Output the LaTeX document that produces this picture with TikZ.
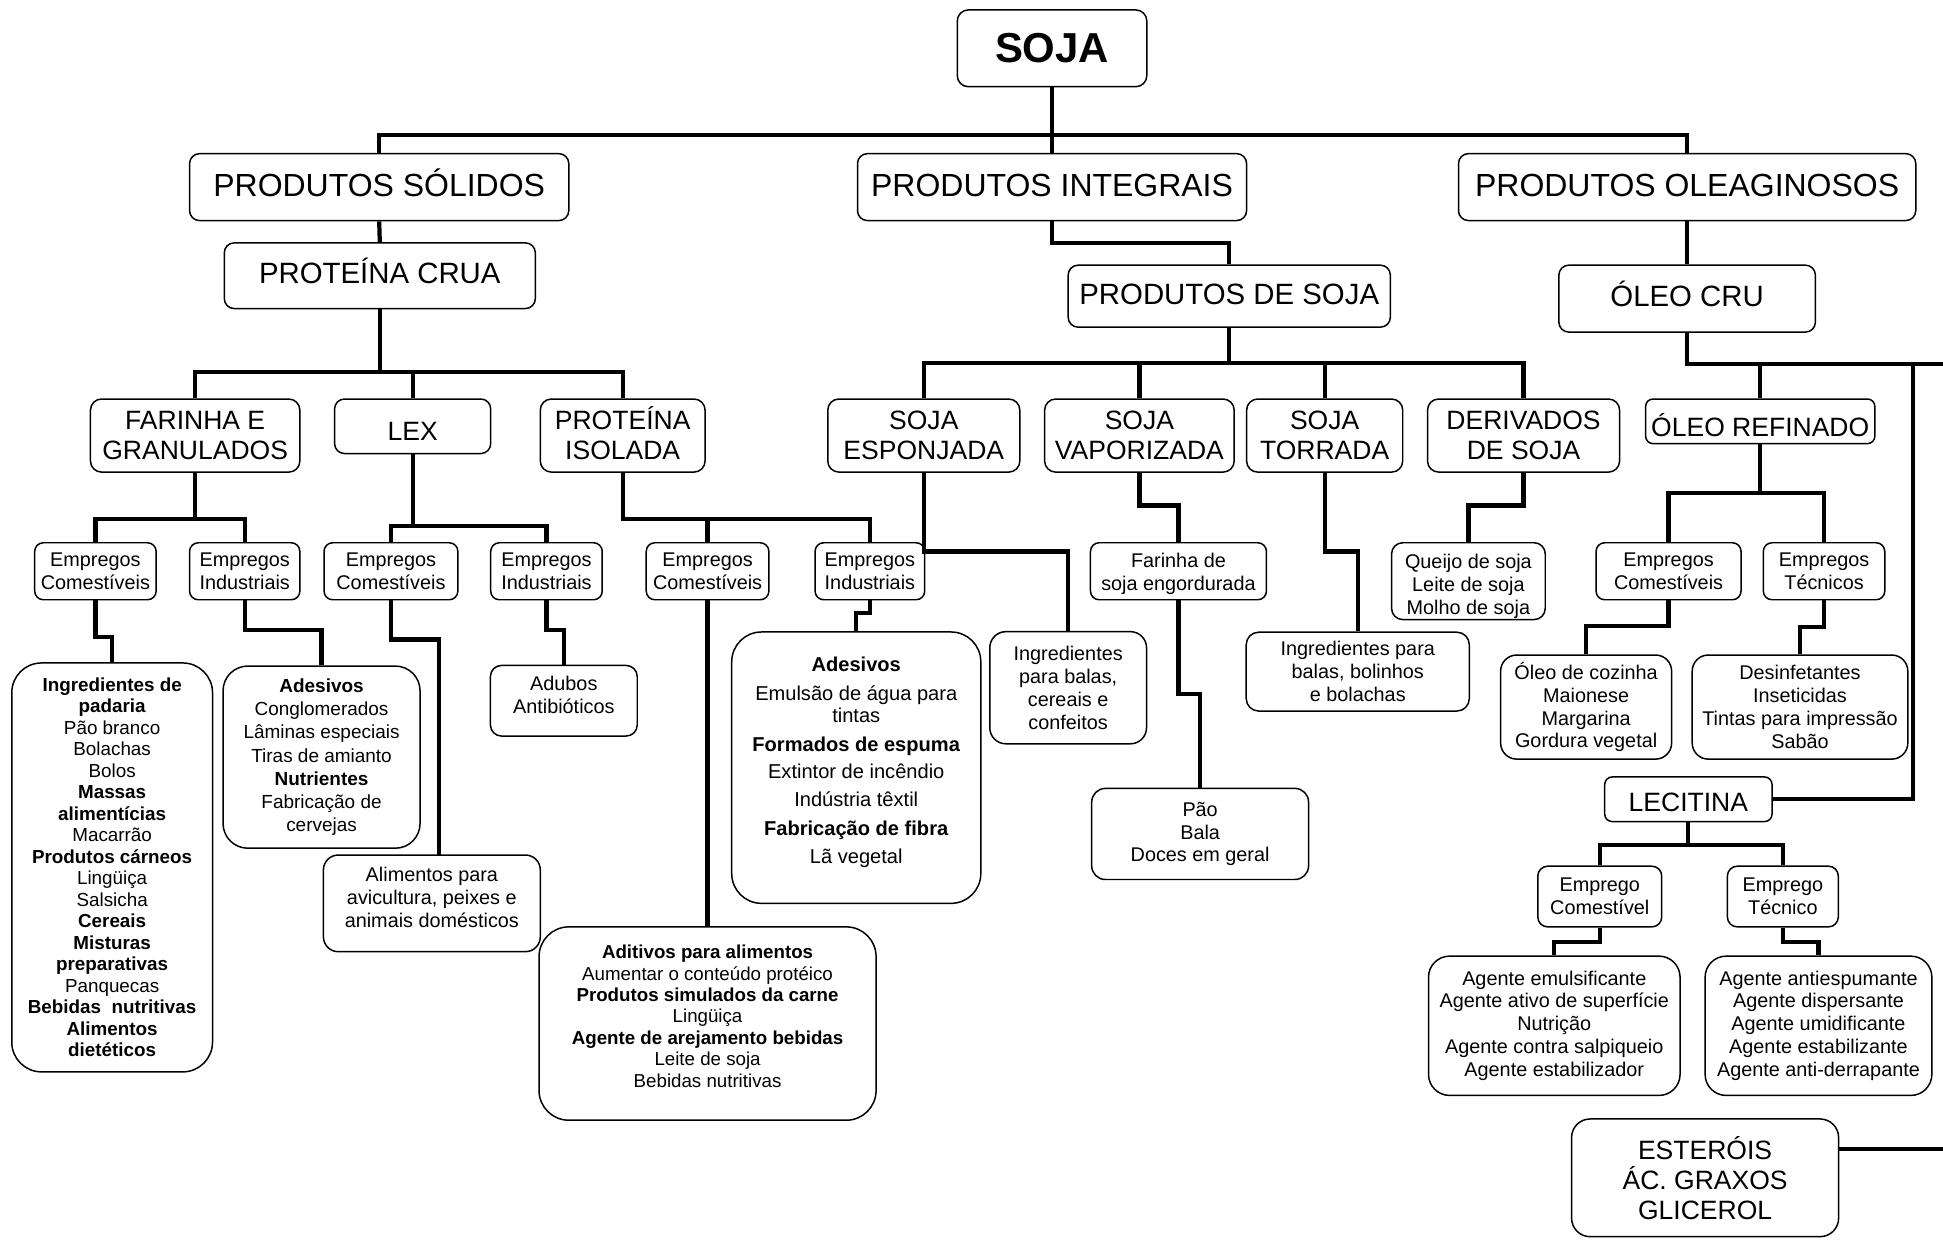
\documentclass[tikz,border=0pt]{standalone}
\usepackage{fontspec}
\setmainfont{Liberation Sans}
\tikzstyle{box}=[draw, line width=1.2pt, align=center, inner sep=0pt, rounded corners=8pt]
\tikzstyle{link}=[line width=3.4pt]
\tikzstyle{fsoja}=[font=\bfseries\fontsize{33.8}{38}\selectfont]
\tikzstyle{fbig}=[font=\fontsize{25.8}{30}\selectfont, text height=14.5pt, text depth=0pt]
\tikzstyle{fmid}=[font=\fontsize{23.7}{27}\selectfont, text height=13pt, text depth=0pt]
\tikzstyle{fcaps}=[font=\fontsize{21.4}{24.3}\selectfont]
\tikzstyle{fsmall}=[font=\fontsize{16}{18.5}\selectfont]
\tikzstyle{flist}=[font=\fontsize{15.2}{17.35}\selectfont]
\newcommand{\boxnode}{\node[box]}
\newcommand{\lowstrut}[1]{\rule[-#1]{0pt}{#1}}
\newcommand{\highstrut}[1]{\rule{0pt}{#1}}

\begin{document}
\begin{tikzpicture}[x=1pt, y=-1pt]
\useasboundingbox (0,0) rectangle (1568,1000);
%top
\boxnode[fsoja, minimum width=153pt, minimum height=62pt, rounded corners=9pt] (soja) at (849,39) {SOJA};
\boxnode[fbig, minimum width=306pt, minimum height=54pt] (ps) at (306,151) {PRODUTOS SÓLIDOS};
\boxnode[fbig, minimum width=314pt, minimum height=54pt] (pi) at (849,151) {PRODUTOS INTEGRAIS};
\boxnode[fbig, minimum width=369pt, minimum height=54pt] (po) at (1361.5,151) {PRODUTOS OLEAGINOSOS};
\boxnode[fmid, minimum width=251pt, minimum height=53pt] (pc) at (306.5,222.5) {PROTEÍNA CRUA};
\boxnode[fmid, minimum width=260pt, minimum height=50pt] (pds) at (992,239) {PRODUTOS DE SOJA};
\boxnode[fmid, minimum width=207pt, minimum height=54pt] (oc) at (1361.5,241) {ÓLEO CRU};
%products
\foreach \n/\x/\w/\t in {fg/157.5/169/{FARINHA E\\GRANULADOS}, pis/502.5/133/{\smash{PROTEÍNA}\vphantom{I}\\ISOLADA},
  esp/745.5/155/{SOJA\\ESPONJADA}, vap/919.5/153/{SOJA\\VAPORIZADA}, tor/1069/126/{SOJA\\TORRADA},
  der/1229.5/155/{DERIVADOS\\DE SOJA}}{
	\boxnode[fcaps, minimum width=\w pt, minimum height=59pt, rounded corners=9pt] (\n) at (\x,351.5) {\t};}
\boxnode[fcaps, text height=23.3pt, text depth=0pt, minimum width=126pt, minimum height=44pt] (lex) at (333,344) {LEX};
\boxnode[fcaps, text height=25.3pt, text depth=0pt, minimum width=185pt, minimum height=36pt, rounded corners=6pt] (oref) at (1420.5,340) {ÓLEO REFINADO};
%uses
\foreach \n/\x/\w/\t in {ec1/77/98/Comestíveis, ei1/197.5/89/Industriais, ec2/315.5/108/Comestíveis,
  ei2/441/90/Industriais, ec3/571/99/Comestíveis, ei3/702/88.5/Industriais,
  ec4/1346.5/117/Comestíveis, et/1472/98/Técnicos}{
	\boxnode[fsmall, minimum width=\w pt, minimum height=46pt, rounded corners=7pt] (\n) at (\x,461) {Empregos\\\t};}
\boxnode[fsmall, minimum width=142pt, minimum height=46pt, rounded corners=7pt] (fse) at (951,461) {\highstrut{15.7pt}Farinha de\\soja engordurada};
\boxnode[fsmall, minimum width=124pt, minimum height=62pt, rounded corners=9pt] (queijo) at (1185,469) {\highstrut{19.7pt}Queijo de soja\\Leite de soja\\Molho de soja};
%lists
\boxnode[flist, minimum width=162pt, minimum height=330pt, rounded corners=24pt] (padaria) at (90.5,700)
	{\textbf{Ingredientes de}\\\textbf{padaria}\\Pão branco\\Bolachas\\Bolos\\\textbf{Massas}\\\textbf{alimentícias}\\Macarrão\\\textbf{Produtos cárneos}\\Lingüiça\\Salsicha\\\textbf{Cereais}\\\textbf{Misturas}\\\textbf{preparativas}\\Panquecas\\\textbf{Bebidas~~nutritivas}\\\textbf{Alimentos}\\\textbf{dietéticos}};
\boxnode[font=\fontsize{15.3}{18.7}\selectfont, minimum width=159pt, minimum height=147pt, rounded corners=20pt] (ades1) at (259.5,611)
	{\textbf{Adesivos}\\Conglomerados\\Lâminas especiais\\Tiras de amianto\\\textbf{Nutrientes}\\Fabricação de\\cervejas};
\boxnode[fsmall, minimum width=175pt, minimum height=78pt, rounded corners=12pt] (alim) at (348.5,729) {Alimentos para\\avicultura, peixes e\\animais domésticos\lowstrut{10pt}};
\boxnode[fsmall, minimum width=118.5pt, minimum height=57pt, rounded corners=9pt] (adubos) at (455,565.5) {Adubos\\Antibióticos\lowstrut{10pt}};
\boxnode[font=\fontsize{15.1}{17.3}\selectfont, minimum width=272pt, minimum height=156pt, rounded corners=24pt] (aditivos) at (571,826)
	{\textbf{Aditivos para alimentos}\\Aumentar o conteúdo protéico\\\textbf{Produtos simulados da carne}\\Lingüiça\\\textbf{Agente de arejamento bebidas}\\Leite de soja\\Bebidas nutritivas\lowstrut{12pt}};
\boxnode[font=\fontsize{16.2}{18}\selectfont, minimum width=201pt, minimum height=219pt, rounded corners=24pt] (ades2) at (691,619.5)
	{\textbf{Adesivos}\\[5pt]Emulsão de água para\\tintas\\[5pt]\textbf{Formados de espuma}\\[4pt]Extintor de incêndio\\[5pt]Indústria têxtil\\[5pt]\textbf{Fabricação de fibra}\\[5pt]Lã vegetal\lowstrut{11.4pt}};
\boxnode[fsmall, minimum width=126.5pt, minimum height=90.5pt, rounded corners=13pt] (ingbalas) at (862,555) {Ingredientes\\para balas,\\cereais e\\confeitos};
\boxnode[fsmall, minimum width=175pt, minimum height=73.5pt, rounded corners=11pt] (pao) at (968.5,673) {Pão\\Bala\\Doces em geral};
\boxnode[fsmall, minimum width=180pt, minimum height=63.6pt, rounded corners=10pt] (ingbol) at (1095.7,542) {Ingredientes para\\balas, bolinhos\\e bolachas};
\boxnode[fsmall, minimum width=138pt, minimum height=84pt, rounded corners=13pt] (oleo) at (1280,570.6) {Óleo de cozinha\\Maionese\\Margarina\\Gordura vegetal};
\boxnode[fsmall, minimum width=174pt, minimum height=84pt, rounded corners=13pt] (desinf) at (1452.6,570.6) {Desinfetantes\\Inseticidas\\Tintas para impressão\\Sabão};
%lecitina
\boxnode[fcaps, text height=20.5pt, text depth=0pt, minimum width=135pt, minimum height=36pt, rounded corners=6pt] (lec) at (1362.5,645) {LECITINA};
\boxnode[fsmall, minimum width=100pt, minimum height=49pt, rounded corners=8pt] (empc) at (1291,723.5) {Emprego\\Comestível};
\boxnode[fsmall, minimum width=89.5pt, minimum height=49pt, rounded corners=8pt] (empt) at (1438.75,723.5) {Emprego\\Técnico};
\boxnode[fsmall, minimum width=203pt, minimum height=112.4pt, rounded corners=17pt] (agc) at (1254.3,827.8)
	{Agente emulsificante\\Agente ativo de superfície\\Nutrição\\Agente contra salpiqueio\\Agente estabilizador};
\boxnode[fsmall, minimum width=183pt, minimum height=112.4pt, rounded corners=17pt] (agt) at (1467.5,827.8)
	{Agente antiespumante\\Agente dispersante\\Agente umidificante\\Agente estabilizante\\Agente anti-derrapante};
\boxnode[fcaps, minimum width=215.5pt, minimum height=95pt, rounded corners=15pt] (est) at (1376,950.5) {ESTERÓIS\\ÁC. GRAXOS\\GLICEROL};
%edges
\draw[link] (soja.south) -- (pi.north);
\draw[link] (ps.north) |- (po.north |- 0,109) -- (po.north);
\draw[link] (ps.south) -- (pc.north);
\draw[link] (pi.south) |- (pds.north |- 0,196) -- (pds.north);
\draw[link] (po.south) -- (oc.north);
\draw[link] (pc.south) -- (pc.south |- 0,300);
\draw[link] (fg.north) |- (pis.north |- 0,300) -- (pis.north);
\draw[link] (lex.north) -- (lex.north |- 0,300);
\draw[link] (pds.south) -- (pds.south |- 0,293);
\draw[link] (esp.north) |- (der.north |- 0,293) -- (der.north);
\foreach \n in {vap, tor}{
	\draw[link] (\n.north) -- (\n.north |- 0,293);}
\coordinate (edgeA) at (1568,294);
\coordinate (edgeB) at (1568,927.5);
\draw[link] (oc.south) |- (edgeA);
\draw[link] (oref.north) -- (oref.north |- edgeA);
\draw[link] (lec.east) -| (1544,294);
\draw[link] (est.east |- edgeB) -- (edgeB);
%buses to uses
\foreach \p/\a/\b/\y in {fg/ec1/ei1/419, lex/ec2/ei2/424.5, oref/ec4/et/398, lec/empc/empt/682}{
	\draw[link] (\p.south) -- (\p.south |- 0,\y);
	\draw[link] (\a.north) |- (\b.north |- 0,\y) -- (\b.north);}
\draw[link] (pis.south) |- (ei3.north |- 0,419) -- (ei3.north);
\draw[link] (ec3.north) -- (ec3.north |- 0,419);
%steps
\foreach \a/\b/\y in {esp/ingbalas/445, vap/fse/408, tor/ingbol/445, der/queijo/408,
  ec1/padaria/514, ei1/ades1/508.5, ei2/adubos/508.5, ei3/ades2/495, fse/pao/560,
  ec4/oleo/505, et/desinf/506, empc/agc/760, empt/agt/760}{
	\draw[link] (\a.south) |- (\b.north |- 0,\y) -- (\b.north);}
\draw[link] (ec2.south) |- (354,516) -- (354,690);
\draw[link] (ec3.south) -- (aditivos.north);
\end{tikzpicture}
\end{document}
